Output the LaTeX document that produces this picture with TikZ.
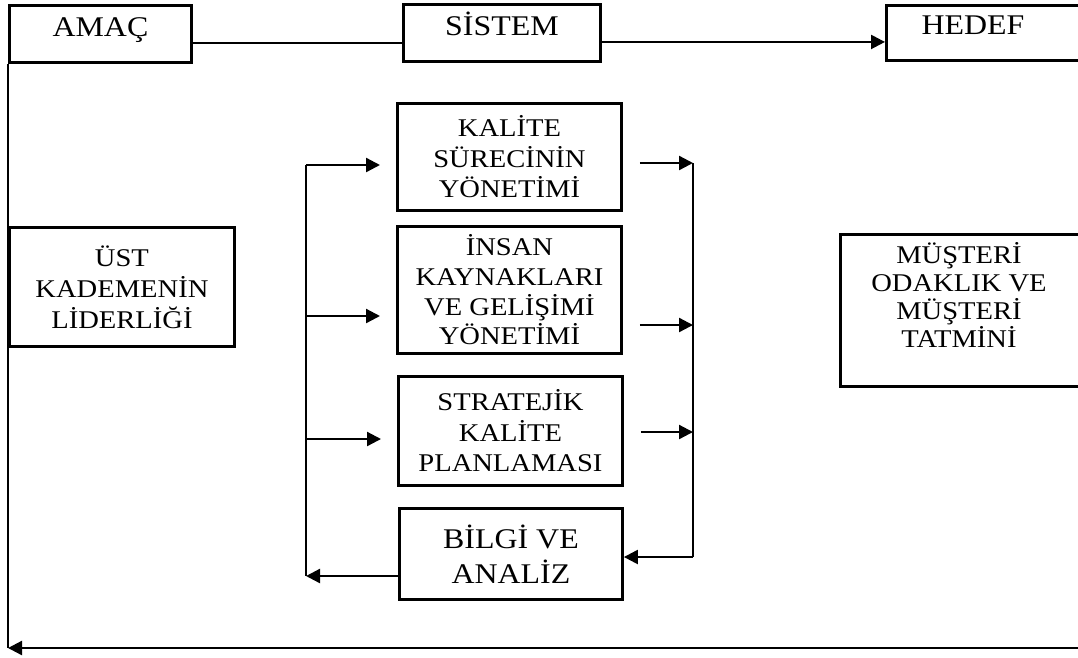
\documentclass[tikz,border=0pt]{standalone}
\usepackage{fontspec}
\setmainfont{Liberation Serif}[FakeStretch=1.12]
\usetikzlibrary{arrows.meta}
\begin{document}
\begin{tikzpicture}[x=1pt,y=-1pt,
  frame/.style={draw, line width=2.9pt, inner sep=0pt},
  box/.style={frame, align=center},
  conn/.style={line width=2.3pt},
  arr/.style={conn, -{Triangle[length=14pt,width=14pt]}},
  headfont/.style={font=\fontsize{28.5}{32}\selectfont, text height=19pt, text depth=14pt},
  head/.style={box, headfont},
  mid/.style={box, minimum width=224pt, font=\fontsize{25.5}{30.5}\selectfont},
]
\useasboundingbox (0,0) rectangle (1078,657);
\clip (0,0) rectangle (1078,657);

% top row: goal, system, target
\node[head, anchor=north west, minimum width=182pt, minimum height=57pt] (amac) at (8,4) {AMAÇ};
\node[head, anchor=north west, minimum width=197pt, minimum height=57pt] (sistem) at (402,3) {SİSTEM};
\node[frame, anchor=north west, minimum width=300pt, minimum height=55pt] (hedef) at (885,4) {};
\node[headfont, inner sep=0pt] (hedeftxt) at (973,31.5) {HEDEF};

% leadership box on the left
\node[box, anchor=north west, minimum width=225pt, minimum height=119pt,
      font=\fontsize{25.5}{31}\selectfont] (ust) at (8,226) {ÜST\\KADEMENİN\\LİDERLİĞİ};

% central process boxes
\node[mid, anchor=north west, minimum height=107pt] (kal) at (396,102) {KALİTE\\SÜRECİNİN\\YÖNETİMİ};
\node[mid, anchor=north west, minimum height=127pt, font=\fontsize{25.5}{29.7}\selectfont] (insan) at (396,225) {İNSAN\\KAYNAKLARI\\VE GELİŞİMİ\\YÖNETİMİ};
\node[mid, anchor=north west, minimum height=109pt] (strat) at (397,375) {STRATEJİK\\KALİTE\\PLANLAMASI};
\node[box, anchor=north west, minimum width=223pt, minimum height=91pt,
      font=\fontsize{28.5}{35}\selectfont] (bilgi) at (398,507) {BİLGİ VE\\ANALİZ};

% customer box on the right
\node[frame, anchor=north west, minimum width=300pt, minimum height=152pt] (musteri) at (839,233) {};
\node[align=center, inner sep=0pt, font=\fontsize{25.5}{27.7}\selectfont] (musteritxt) at (959,295) {MÜŞTERİ\\ODAKLIK VE\\MÜŞTERİ\\TATMİNİ};

% bus coordinates
\coordinate (lt) at (306,165);
\coordinate (l2) at (306,316);
\coordinate (l3) at (306,439);
\coordinate (lb) at (306,576);
\coordinate (rt) at (693,163);
\coordinate (r2) at (693,325);
\coordinate (r3) at (693,432);
\coordinate (rb) at (693,557);
\coordinate (bl) at (8,648);
\coordinate (br) at (1080,648);

% top row connectors
\draw[conn] ([yshift=-9pt]amac.east) -- ([yshift=-9pt]amac.east -| sistem.west);
\draw[arr] ([yshift=-9pt]sistem.east) -- ([yshift=-9pt]sistem.east -| hedef.west);

% outer feedback loop
\draw[conn] (amac.south west) -- (bl);
\draw[arr] (br) -- (bl);

% left distribution bus
\draw[conn] (lt) -- (lb);
\draw[arr, shorten >=16pt] (lt) -- (lt -| kal.west);
\draw[arr, shorten >=16pt] (l2) -- (l2 -| insan.west);
\draw[arr, shorten >=16pt] (l3) -- (l3 -| strat.west);
\draw[arr] (lb -| bilgi.west) -- (lb);

% right collecting bus
\draw[conn] (rt) -- (rb);
\draw[arr, shorten <=17pt] (rt -| kal.east) -- (rt);
\draw[arr, shorten <=17pt] (r2 -| insan.east) -- (r2);
\draw[arr, shorten <=17pt] (r3 -| strat.east) -- (r3);
\draw[arr] (rb) -- (rb -| bilgi.east);
\end{tikzpicture}
\end{document}
